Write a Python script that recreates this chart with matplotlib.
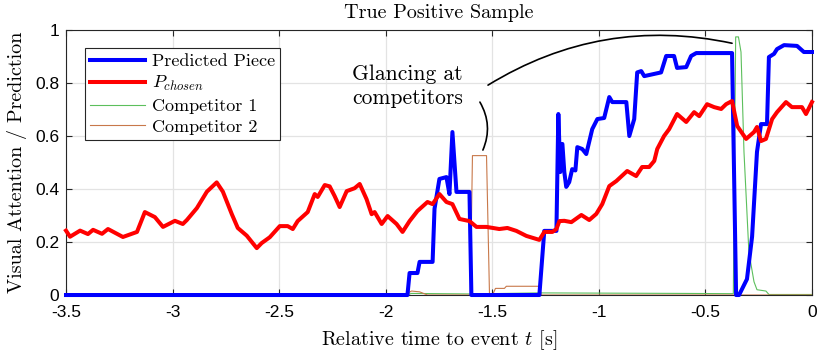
import numpy as np
import matplotlib
matplotlib.use("Agg")
import matplotlib.pyplot as plt

# data (time in s, value 0..1)
t_pred = [-3.5, -1.898, -1.888, -1.851, -1.841, -1.780, -1.771, -1.748, -1.715, -1.701,
          -1.687, -1.668, -1.607, -1.598, -1.279, -1.256, -1.199, -1.190, -1.181, -1.171,
          -1.162, -1.153, -1.139, -1.125, -1.110, -1.101, -1.078, -1.059, -1.031, -1.007,
          -0.975, -0.951, -0.937, -0.871, -0.857, -0.834, -0.820, -0.801, -0.787, -0.708,
          -0.684, -0.647, -0.633, -0.590, -0.567, -0.543, -0.375, -0.356, -0.342, -0.305,
          -0.281, -0.258, -0.239, -0.211, -0.202, -0.178, -0.164, -0.131, -0.070, -0.038, 0.0]
y_pred = [0.0, 0.0, 0.083, 0.083, 0.125, 0.125, 0.325, 0.438, 0.445, 0.381,
          0.615, 0.389, 0.389, 0.0, 0.0, 0.242, 0.242, 0.683, 0.464, 0.57,
          0.464, 0.408, 0.426, 0.475, 0.47, 0.558, 0.551, 0.532, 0.626, 0.664,
          0.668, 0.747, 0.728, 0.728, 0.6, 0.664, 0.84, 0.845, 0.826, 0.84,
          0.902, 0.902, 0.857, 0.86, 0.902, 0.913, 0.913, 0.0, 0.0, 0.06,
          0.22, 0.54, 0.645, 0.645, 0.898, 0.91, 0.928, 0.943, 0.94, 0.917, 0.917]

t_chosen = [-3.5, -3.481, -3.434, -3.397, -3.373, -3.331, -3.303, -3.233, -3.167, -3.130,
            -3.083, -3.045, -2.989, -2.952, -2.933, -2.886, -2.839, -2.793, -2.764, -2.722,
            -2.694, -2.652, -2.605, -2.582, -2.544, -2.497, -2.460, -2.436, -2.413, -2.366,
            -2.333, -2.319, -2.286, -2.263, -2.240, -2.216, -2.183, -2.146, -2.122, -2.090,
            -2.066, -2.052, -2.019, -1.991, -1.949, -1.921, -1.888, -1.851, -1.804, -1.780,
            -1.748, -1.715, -1.687, -1.654, -1.607, -1.574, -1.527, -1.467, -1.429, -1.387,
            -1.340, -1.279, -1.256, -1.218, -1.199, -1.185, -1.162, -1.129, -1.082, -1.045,
            -1.012, -0.984, -0.951, -0.918, -0.867, -0.825, -0.797, -0.764, -0.740, -0.726,
            -0.694, -0.670, -0.633, -0.590, -0.553, -0.529, -0.492, -0.459, -0.426, -0.403,
            -0.375, -0.351, -0.309, -0.272, -0.258, -0.239, -0.216, -0.187, -0.164, -0.122,
            -0.094, -0.047, -0.028, 0.0]
y_chosen = [0.243, 0.22, 0.243, 0.23, 0.246, 0.231, 0.249, 0.219, 0.238, 0.313,
            0.294, 0.257, 0.28, 0.268, 0.283, 0.328, 0.39, 0.425, 0.39, 0.305,
            0.253, 0.224, 0.177, 0.196, 0.218, 0.26, 0.26, 0.249, 0.279, 0.313,
            0.381, 0.37, 0.415, 0.41, 0.374, 0.332, 0.392, 0.403, 0.419, 0.362,
            0.305, 0.313, 0.268, 0.298, 0.268, 0.238, 0.279, 0.317, 0.351, 0.343,
            0.381, 0.351, 0.343, 0.287, 0.279, 0.257, 0.257, 0.249, 0.253, 0.242,
            0.223, 0.208, 0.238, 0.238, 0.249, 0.279, 0.28, 0.275, 0.302, 0.283,
            0.306, 0.343, 0.411, 0.43, 0.468, 0.449, 0.483, 0.483, 0.506, 0.551,
            0.6, 0.626, 0.683, 0.653, 0.69, 0.675, 0.72, 0.709, 0.702, 0.72,
            0.732, 0.638, 0.589, 0.615, 0.634, 0.581, 0.589, 0.664, 0.69, 0.728,
            0.709, 0.709, 0.683, 0.728]

t_comp1 = [-3.5, -1.90, -1.88, -1.60, -1.28, -0.60, -0.369, -0.358, -0.345, -0.333,
           -0.319, -0.296, -0.272, -0.258, -0.216, -0.202, 0.0]
y_comp1 = [0.0, 0.0, 0.006, 0.004, 0.008, 0.006, 0.005, 0.974, 0.974, 0.917,
           0.54, 0.162, 0.05, 0.02, 0.015, 0.002, 0.002]

t_comp2 = [-3.5, -1.912, -1.879, -1.841, -1.804, -1.603, -1.593, -1.527, -1.513, -1.499,
           -1.485, -1.443, -1.434, -1.279, -1.270, 0.0]
y_comp2 = [0.0, 0.0, 0.015, 0.012, 0.0, 0.0, 0.526, 0.526, 0.0, 0.0,
           0.025, 0.025, 0.033, 0.033, 0.0, 0.0]

xticks = [-3.5, -3, -2.5, -2, -1.5, -1, -0.5, 0]
yticks = [0, 0.2, 0.4, 0.6, 0.8, 1]

plt.rcParams['font.family'] = ['Liberation Sans', 'DejaVu Sans']
plt.rcParams['mathtext.fontset'] = 'cm'
plt.rcParams['axes.unicode_minus'] = False
serif = 'cmr10'

fig = plt.figure(figsize=(8.22, 3.56), dpi=100)
ax = fig.add_axes([0.0803, 0.1713, 0.9075, 0.7444])

ax.plot(t_pred, y_pred, color='#0000ff', lw=2.9, label='Predicted Piece', zorder=4, clip_on=False)
ax.plot(t_chosen, y_chosen, color='#ff0000', lw=2.9, label='$P_{chosen}$', zorder=5, clip_on=False)
ax.plot(t_comp1, y_comp1, color='#5cbf5c', lw=0.8, label='Competitor 1', zorder=3)
ax.plot(t_comp2, y_comp2, color='#c8784a', lw=0.8, label='Competitor 2', zorder=3)

ax.set_xlim(-3.5, 0)
ax.set_ylim(0, 1)
ax.set_xticks(xticks)
ax.set_yticks(yticks)
ax.set_xticklabels(['%g' % v for v in xticks])
ax.set_yticklabels(['%g' % v for v in yticks])
ax.tick_params(direction='in', top=True, right=True, length=4, width=0.8,
               labelsize=12.5, colors='#262626', labelcolor='black')
ax.tick_params(axis='x', pad=7)
ax.tick_params(axis='y', pad=5)
ax.grid(True, color='#e3e3e3', lw=0.9)
ax.set_axisbelow(True)
for s in ax.spines.values():
    s.set_color('#262626')
    s.set_linewidth(0.8)

ax.set_title('True Positive Sample', fontfamily=serif, fontsize=14.5, pad=9)
ax.set_xlabel('Relative time to event $t$ [s]', fontfamily=serif, fontsize=14.5, labelpad=6)
ax.set_ylabel('Visual Attention / Prediction', fontfamily=serif, fontsize=14.5, labelpad=6)

leg = ax.legend(loc='upper left', bbox_to_anchor=(0.0255, 0.932), borderaxespad=0,
                prop={'family': serif, 'size': 13}, fancybox=False, framealpha=1,
                edgecolor='#262626', handlelength=3.0, handletextpad=0.4,
                labelspacing=0.28, borderpad=0.3)
leg.get_frame().set_linewidth(0.8)

# annotation
ax.text(-1.898, 0.789, 'Glancing at\ncompetitors', fontfamily=serif, fontsize=15.5,
        ha='center', va='center', linespacing=1.3)
ax.annotate('', xy=(-0.375, 0.950), xytext=(-1.520, 0.792),
            arrowprops=dict(arrowstyle='-', connectionstyle='arc3,rad=-0.2',
                            shrinkA=0, shrinkB=0, lw=1.2, color='black'))
ax.annotate('', xy=(-1.544, 0.547), xytext=(-1.558, 0.728),
            arrowprops=dict(arrowstyle='-', connectionstyle='arc3,rad=-0.25',
                            shrinkA=0, shrinkB=0, lw=1.2, color='black'))

fig.savefig('out.png', dpi=100)
